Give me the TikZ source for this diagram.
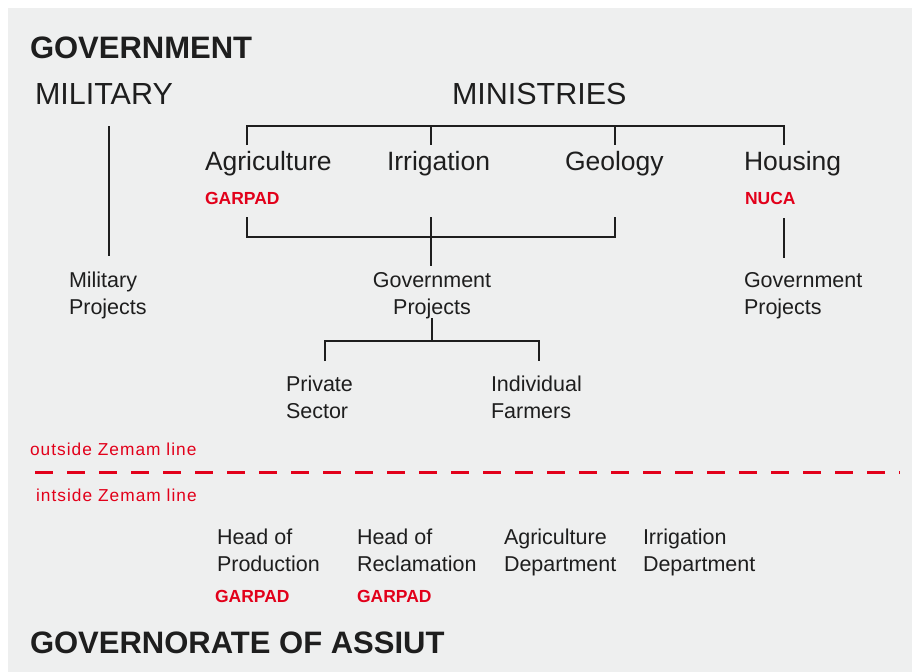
\documentclass[tikz,border=0pt]{standalone}
\usepackage{fontspec}
\setmainfont{Liberation Sans}
\definecolor{zred}{HTML}{E2001A}
\definecolor{panel}{HTML}{EEEFEF}
\definecolor{ink}{HTML}{1E1E1E}

\begin{document}
\begin{tikzpicture}[x=1pt,y=-1pt,
  every node/.style={inner sep=0pt, outer sep=0pt, text=ink},
  title/.style={font=\fontsize{31}{31}\selectfont\bfseries, anchor=base west},
  branch/.style={font=\fontsize{30.5}{30.5}\selectfont, anchor=base west},
  ministry/.style={font=\fontsize{26.5}{26.5}\selectfont, anchor=base west},
  % two-line labels: the base anchor sits on the second line
  item/.style={font=\fontsize{21.5}{26.5}\selectfont, anchor=base west, align=left},
  agency/.style={font=\fontsize{17.5}{17.5}\selectfont\bfseries, text=zred, anchor=base west},
  note/.style={font=\fontsize{17.3}{17.3}\addfontfeatures{LetterSpace=6}\selectfont, text=zred, anchor=base west},
  link/.style={draw=ink, line width=1.4pt},
  zemam/.style={draw=zred, line width=3pt, dash pattern=on 18pt off 14pt},
]
\useasboundingbox (0,0) rectangle (913,672);
\fill[panel] (8,8) rectangle (912,672);

% headings
\node[title]  (gov)   at (30,58)  {GOVERNMENT};
\node[branch] (mil)   at (35,104) {MILITARY};
\node[branch] (mins)  at (452,104) {MINISTRIES};

% ministries
\node[ministry] (agri) at (205,170) {Agriculture};
\node[ministry] (irri) at (387,170) {Irrigation};
\node[ministry] (geol) at (565,170) {Geology};
\node[ministry] (hous) at (744,170) {Housing};
\node[agency]   (garpadA) at (205,204) {GARPAD};
\node[agency]   (nuca)    at (745,204) {NUCA};

% projects
\node[item] (milproj) at (69,314) {Military\\Projects};
\node[item, anchor=base, align=center] (govproj) at (432,314) {Government\\Projects};
\node[item] (housproj) at (744,314) {Government\\Projects};
\node[item] (priv) at (286,418) {Private\\Sector};
\node[item] (indiv) at (491,418) {Individual\\Farmers};

% Zemam line
\node[note] (outside) at (30,455) {outside Zemam line};
\node[note] (inside)  at (36,501) {intside Zemam line};
\coordinate (zL) at (35,472);
\coordinate (zR) at (900,472);
\draw[zemam] (zL) -- (zR);

% governorate
\node[item] (hprod) at (217,571) {Head of\\Production};
\node[item] (hrecl) at (357,571) {Head of\\Reclamation};
\node[item] (adept) at (504,571) {Agriculture\\Department};
\node[item] (idept) at (643,571) {Irrigation\\Department};
\node[agency] (garpadB) at (215,602) {GARPAD};
\node[agency] (garpadC) at (357,602) {GARPAD};
\node[title]  (assiut)  at (30,653) {GOVERNORATE OF ASSIUT};

% connector points
\coordinate (mA) at (247,126);
\coordinate (mB) at (431,126);
\coordinate (mC) at (615,126);
\coordinate (mD) at (784,126);
\coordinate (aA) at (247,145);
\coordinate (aB) at (431,145);
\coordinate (aC) at (615,145);
\coordinate (aD) at (784,145);
\coordinate (lA) at (247,217);
\coordinate (lB) at (431,217);
\coordinate (lC) at (615,217);
\coordinate (jA) at (247,237);
\coordinate (jC) at (615,237);
\coordinate (gpTop) at (431,266);
\coordinate (milTop) at (109,126);
\coordinate (milBot) at (109,256);
\coordinate (hTop) at (784,218);
\coordinate (hBot) at (784,258);
\coordinate (gpB) at (432,318);
\coordinate (sJ) at (432,341);
\coordinate (sL) at (325,341);
\coordinate (sR) at (539,341);
\coordinate (sLd) at (325,361);
\coordinate (sRd) at (539,361);

% ministries bracket
\draw[link] (aA) -- (mA) -- (mD) -- (aD);
\draw[link] (mB) -- (aB);
\draw[link] (mC) -- (aC);
% joint projects bracket
\draw[link] (lA) -- (jA) -- (jC) -- (lC);
\draw[link] (lB) -- (gpTop);
% military and housing
\draw[link] (milTop) -- (milBot);
\draw[link] (hTop) -- (hBot);
% split of government projects
\draw[link] (gpB) -- (sJ);
\draw[link] (sLd) -- (sL) -- (sR) -- (sRd);
\end{tikzpicture}
\end{document}
